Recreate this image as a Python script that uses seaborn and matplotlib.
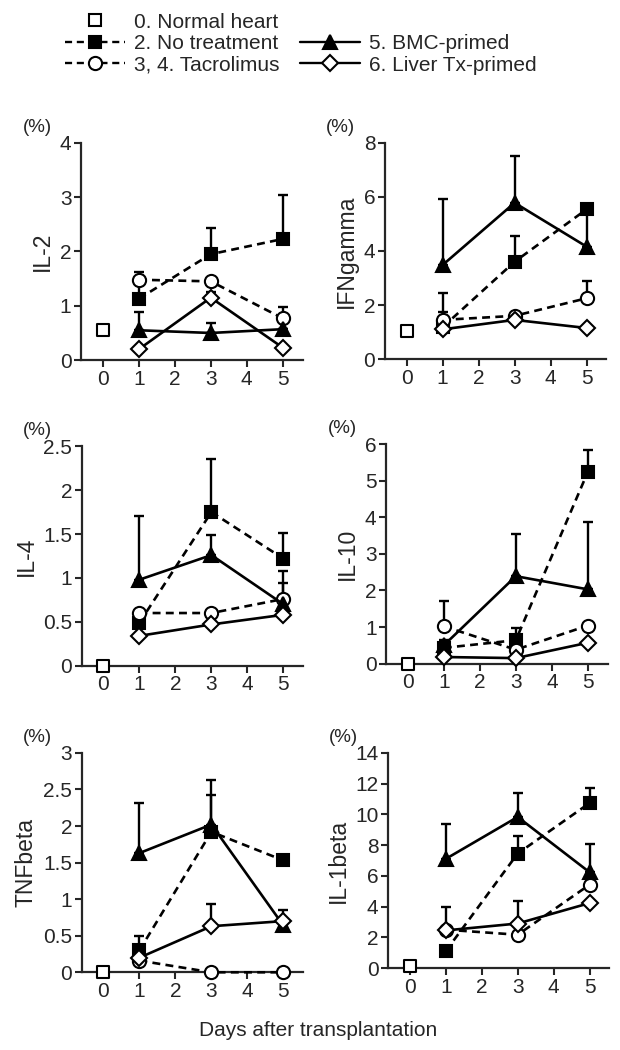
import matplotlib
matplotlib.use('Agg')
import matplotlib.pyplot as plt
import seaborn as sns
from matplotlib.lines import Line2D

# days after transplantation
days = [1, 3, 5]
cytokines = ['IL-2', 'IFNgamma', 'IL-4', 'IL-10', 'TNFbeta', 'IL-1beta']
y_max = [4, 8, 2.5, 6, 3, 14]
y_step = [1, 2, 0.5, 1, 0.5, 2]

# 0. Normal heart (day 0)
normal_heart = [0.55, 1.05, 0.0, 0.0, 0.0, 0.15]

# 2. No treatment
no_treatment = [[1.13, 1.95, 2.23], [1.18, 3.60, 5.54], [0.49, 1.75, 1.22],
                [0.43, 0.64, 5.24], [0.30, 1.92, 1.53], [1.10, 7.45, 10.74]]
no_treatment_err = [[0.40, 0.49, 0.81], [0.57, 0.95, 0.0], [0.0, 0.61, 0.29],
                    [0.22, 0.34, 0.60], [0.20, 0.51, 0.0], [0.0, 1.12, 0.98]]

# 3, 4. Tacrolimus
tacrolimus = [[1.48, 1.45, 0.77], [1.45, 1.60, 2.25], [0.60, 0.60, 0.76],
              [1.02, 0.38, 1.04], [0.16, 0.0, 0.0], [2.50, 2.17, 5.43]]
tacrolimus_err = [[0.15, 0.0, 0.21], [1.00, 0.0, 0.65], [0.0, 0.0, 0.18],
                  [0.69, 0.0, 0.0], [0.0, 0.0, 0.0], [1.47, 0.0, 0.0]]

# 5. BMC-primed
bmc_primed = [[0.55, 0.50, 0.57], [3.48, 5.78, 4.16], [0.98, 1.26, 0.70],
              [0.50, 2.39, 2.03], [1.63, 2.02, 0.64], [7.10, 9.83, 6.23]]
bmc_primed_err = [[0.34, 0.19, 0.0], [2.44, 1.74, 1.30], [0.73, 0.23, 0.38],
                  [0.0, 1.14, 1.84], [0.69, 0.61, 0.0], [2.28, 1.57, 1.87]]

# 6. Liver Tx-primed
liver_primed = [[0.20, 1.15, 0.23], [1.10, 1.45, 1.15], [0.34, 0.47, 0.58],
                [0.18, 0.15, 0.57], [0.20, 0.63, 0.70], [2.45, 2.90, 4.23]]
liver_primed_err = [[0.0, 0.10, 0.0], [0.0, 0.0, 0.0], [0.0, 0.0, 0.0],
                    [0.0, 0.0, 0.0], [0.0, 0.31, 0.15], [0.0, 1.44, 0.0]]

sns.set_style('ticks')
plt.rcParams['font.family'] = ['Liberation Sans', 'DejaVu Sans']

dash = (0, (3, 2))
series = [
    ('2. No treatment', no_treatment, no_treatment_err, 's', 'black', dash),
    ('3, 4. Tacrolimus', tacrolimus, tacrolimus_err, 'o', 'white', dash),
    ('5. BMC-primed', bmc_primed, bmc_primed_err, '^', 'black', '-'),
    ('6. Liver Tx-primed', liver_primed, liver_primed_err, 'D', 'white', '-'),
]
msize = {'s': 8.5, 'o': 9.5, '^': 9.5, 'D': 8}

fig = plt.figure(figsize=(6.2, 10.5), dpi=100)

# axes boxes in figure fraction: left, bottom, width, height
boxes = [(0.131, 0.657, 0.357, 0.207), (0.621, 0.658, 0.357, 0.206),
         (0.132, 0.366, 0.357, 0.209), (0.623, 0.368, 0.357, 0.209),
         (0.132, 0.074, 0.357, 0.209), (0.626, 0.078, 0.357, 0.205)]

for i, name in enumerate(cytokines):
    ax = fig.add_axes(boxes[i])
    for label, vals, errs, mk, fc, ls in series:
        ax.errorbar(days, vals[i], yerr=[[0, 0, 0], errs[i]], fmt='none',
                    ecolor='black', elinewidth=1.7, capsize=3.5, capthick=1.7,
                    zorder=2, clip_on=False)
        sns.lineplot(x=days, y=vals[i], ax=ax, color='black', linestyle=ls,
                     linewidth=1.9, marker=mk, markersize=msize[mk],
                     markerfacecolor=fc, markeredgecolor='black',
                     markeredgewidth=1.5, zorder=3, clip_on=False)
    sns.scatterplot(x=[0], y=[normal_heart[i]], ax=ax, marker='s', s=80,
                    facecolor='white', edgecolor='black', linewidth=1.5,
                    zorder=4, clip_on=False)
    ax.set_xlim(-0.6, 5.55)
    ax.set_ylim(0, y_max[i])
    n = int(round(y_max[i] / y_step[i]))
    ticks = [k * y_step[i] for k in range(n + 1)]
    ax.set_yticks(ticks)
    ax.set_yticklabels(['{:g}'.format(t) for t in ticks])
    ax.set_xticks(range(6))
    ax.set_ylabel(name, fontsize=16.5, labelpad=4)
    ax.set_xlabel('')
    ax.tick_params(direction='out', length=5, width=1.5, labelsize=15, pad=2)
    for s in ['left', 'bottom']:
        ax.spines[s].set_linewidth(1.6)
    sns.despine(ax=ax)
    ax.text(-0.2, 1.07, '(%)', transform=ax.transAxes, fontsize=13.5,
            ha='center', va='center')

fig.text(0.513, 0.019, 'Days after transplantation', ha='center',
         va='center', fontsize=15)

# legend
def handle(mk, fc, ls, size):
    return Line2D([], [], color='black', linestyle=ls, linewidth=1.7,
                  marker=mk, markersize=size, markerfacecolor=fc,
                  markeredgecolor='black', markeredgewidth=1.5)

h_normal = handle('s', 'white', 'none', 8.5)
h_blank = Line2D([], [], color='none')
hs = [handle(mk, fc, ls, msize[mk]) for _, _, _, mk, fc, ls in series]
handles = [h_normal, hs[0], hs[1], h_blank, hs[2], hs[3]]
labels = ['0. Normal heart', series[0][0], series[1][0], '', series[2][0],
          series[3][0]]
fig.legend(handles, labels, loc='upper left', bbox_to_anchor=(0.088, 0.998),
           ncol=2, frameon=False, fontsize=15, handlelength=2.9,
           handletextpad=0.4, labelspacing=0.12, columnspacing=1.0,
           borderpad=0)

fig.savefig('out.png', dpi=100)
